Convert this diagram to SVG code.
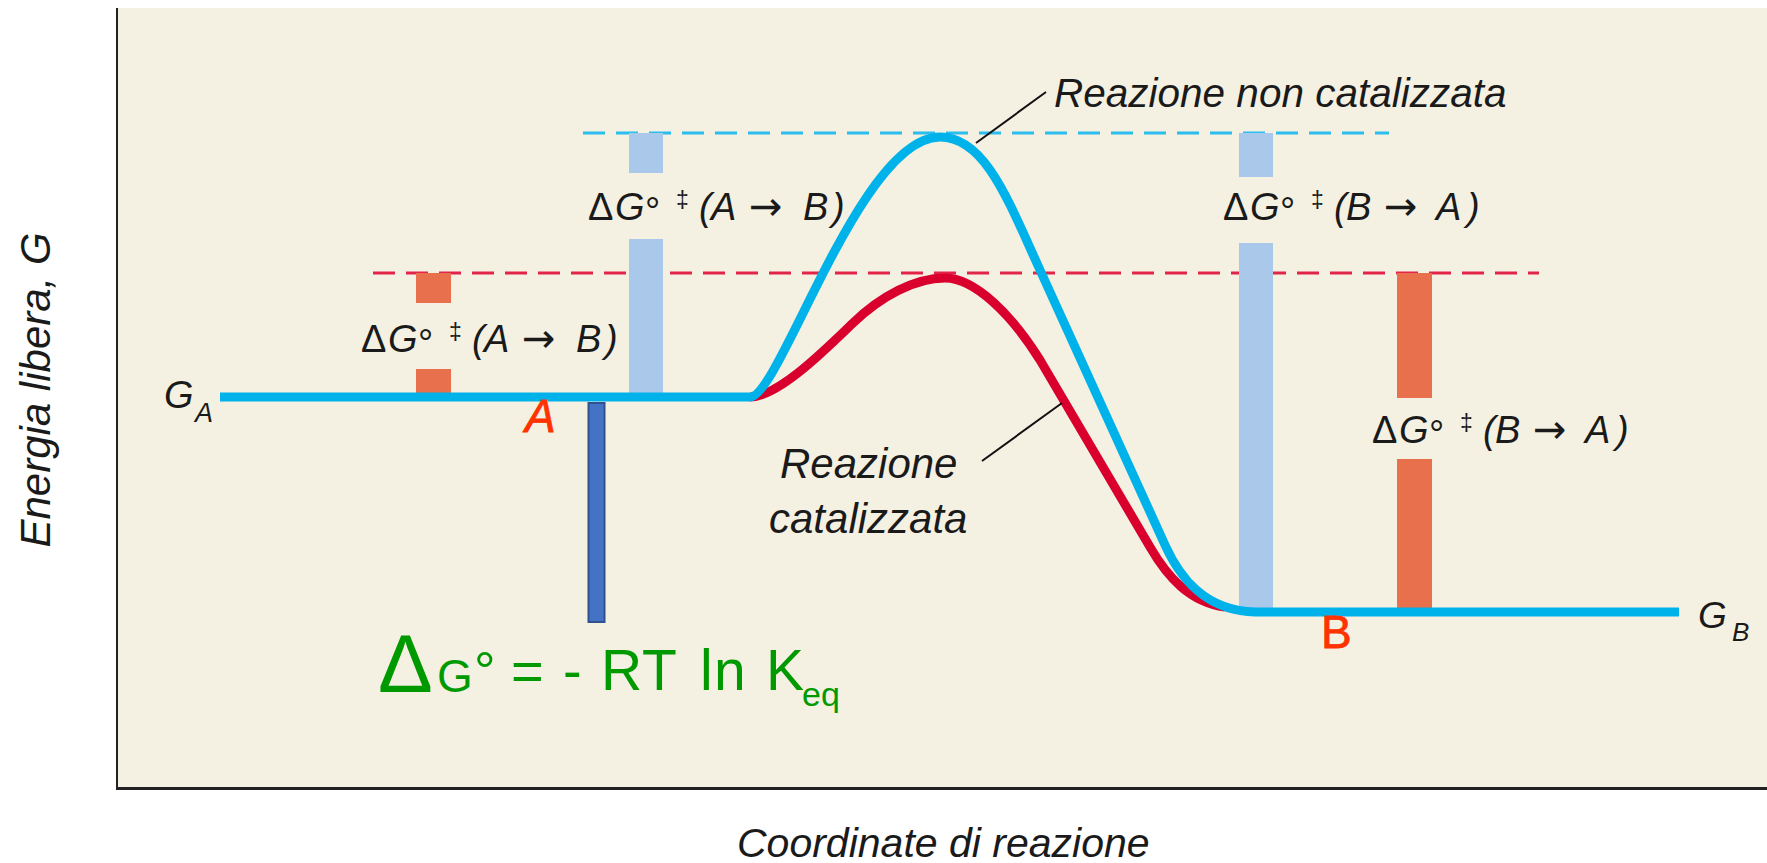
<svg xmlns="http://www.w3.org/2000/svg" width="1767" height="863" viewBox="0 0 1767 863">
<style>
.t{font-family:"Liberation Sans",Arial,sans-serif;fill:#1a1a1a;font-size:38px}
.it{font-style:italic}
.sm{font-size:23px}
.ar{font-family:"DejaVu Sans",sans-serif;font-size:40px}
.hand{font-family:"Liberation Sans",Arial,sans-serif}
.ax{stroke:#222;fill:none}
.lb{fill:#a9c8ea}
.or{fill:#e9704d}
.dashb{stroke:#2bbdee;stroke-width:3;stroke-dasharray:22 11;fill:none}
.dashr{stroke:#e32449;stroke-width:3;stroke-dasharray:22 11;fill:none}
.lead{stroke:#111;stroke-width:2;fill:none}
</style>
<rect x="0" y="0" width="1767" height="863" fill="#ffffff"/>
<rect x="117" y="8" width="1650" height="780" fill="#f4f1e3"/>
<g id="axes">
<line class="ax" x1="117" y1="8" x2="117" y2="789" stroke-width="2"/>
<line class="ax" x1="116" y1="788.5" x2="1767" y2="788.5" stroke-width="3"/>
<text class="t it" transform="translate(50,390) rotate(-90)" text-anchor="middle" style="font-size:42px">Energia libera, G</text>
<text class="t it" x="737" y="857" style="font-size:41px">Coordinate di reazione</text>
</g>
<g id="levels">
<line class="dashb" x1="583" y1="133" x2="1389" y2="133"/>
<line class="dashr" x1="373" y1="273" x2="1539" y2="273"/>
</g>
<g id="bars">
<rect class="lb" x="629" y="133" width="34" height="40"/>
<rect class="lb" x="629" y="239" width="34" height="154"/>
<rect class="or" x="416" y="273" width="35" height="30"/>
<rect class="or" x="416" y="369" width="35" height="25"/>
<rect class="lb" x="1239" y="133" width="34" height="44"/>
<rect class="lb" x="1239" y="243" width="34" height="366"/>
<rect class="or" x="1397" y="273" width="35" height="125"/>
<rect class="or" x="1397" y="459" width="35" height="150"/>
</g>
<g id="curves">
<path id="catalizzata" d="M750,397 C778,397 825,350 853,323 S915,278 945,278 C975,278 1012,315 1040,360 L1150,547 C1168,578 1190,602 1225,607" fill="none" stroke="#d9002e" stroke-width="9"/>
<path id="non-catalizzata" d="M220,397 H750 C780,397 860,137 940,137 C985,137 1008,200 1040,270 L1165,545 C1180,578 1205,611 1255,612 H1679" fill="none" stroke="#00b2ea" stroke-width="9"/>
</g>
<g id="connectors">
<line class="lead" x1="976" y1="143" x2="1046" y2="92"/>
<line class="lead" x1="1062" y1="403" x2="982" y2="461"/>
</g>
<g id="label-GA">
<text class="t it" x="164" y="408" style="font-size:38px">G</text>
<text class="t it" x="195" y="422" style="font-size:27px">A</text>
</g>
<g id="label-GB">
<text class="t it" x="1698" y="628" style="font-size:37px">G</text>
<text class="t it" x="1732" y="641" style="font-size:26px">B</text>
</g>
<g id="label-uncat">
<text class="t it" x="1054" y="107" style="font-size:40.5px">Reazione non catalizzata</text>
</g>
<g id="label-cat">
<text class="t it" x="780" y="478" style="font-size:42px">Reazione</text>
<text class="t it" x="769" y="533" style="font-size:42px">catalizzata</text>
</g>
<g id="dG-AB-cat">
<text class="t"><tspan x="361" y="352">Δ</tspan><tspan class="it" x="388" y="352">G</tspan><tspan x="418" y="356">°</tspan><tspan class="sm" x="449" y="340">‡</tspan><tspan class="it" x="472" y="352">(</tspan><tspan class="it" x="484" y="352">A</tspan><tspan class="ar" x="522" y="352">→</tspan><tspan class="it" x="576" y="352">B</tspan><tspan class="it" x="605" y="352">)</tspan></text>
</g>
<g id="dG-AB-uncat">
<text class="t"><tspan x="588" y="220">Δ</tspan><tspan class="it" x="615" y="220">G</tspan><tspan x="645" y="224">°</tspan><tspan class="sm" x="676" y="208">‡</tspan><tspan class="it" x="699" y="220">(</tspan><tspan class="it" x="711" y="220">A</tspan><tspan class="ar" x="749" y="220">→</tspan><tspan class="it" x="803" y="220">B</tspan><tspan class="it" x="832" y="220">)</tspan></text>
</g>
<g id="dG-BA-uncat">
<text class="t"><tspan x="1223" y="220">Δ</tspan><tspan class="it" x="1250" y="220">G</tspan><tspan x="1280" y="224">°</tspan><tspan class="sm" x="1311" y="208">‡</tspan><tspan class="it" x="1334" y="220">(</tspan><tspan class="it" x="1346" y="220">B</tspan><tspan class="ar" x="1384" y="220">→</tspan><tspan class="it" x="1436" y="220">A</tspan><tspan class="it" x="1467" y="220">)</tspan></text>
</g>
<g id="dG-BA-cat">
<text class="t"><tspan x="1372" y="443">Δ</tspan><tspan class="it" x="1399" y="443">G</tspan><tspan x="1429" y="447">°</tspan><tspan class="sm" x="1460" y="431">‡</tspan><tspan class="it" x="1483" y="443">(</tspan><tspan class="it" x="1495" y="443">B</tspan><tspan class="ar" x="1533" y="443">→</tspan><tspan class="it" x="1585" y="443">A</tspan><tspan class="it" x="1616" y="443">)</tspan></text>
</g>
<g id="label-A">
<text class="hand" x="525" y="432" fill="#ff3300" stroke="#ff3300" stroke-width="0.8" font-size="46" font-style="italic">A</text>
</g>
<g id="label-B">
<text class="hand" x="1321" y="648" fill="#ff3300" stroke="#ff3300" stroke-width="0.8" font-size="46">B</text>
</g>
<g id="dG0-bar">
<rect x="588.5" y="403" width="16" height="219" fill="#4472c4" stroke="#2f528f" stroke-width="2"/>
</g>
<g id="formula">
<text class="hand" fill="#009a00"><tspan x="378" y="692" font-size="82">Δ</tspan><tspan x="437" y="692" font-size="46">G</tspan><tspan x="474" y="690" font-size="54">°</tspan><tspan x="511" y="690" font-size="56">=</tspan><tspan x="563" y="690" font-size="56">-</tspan><tspan x="601" y="690" font-size="57">R</tspan><tspan x="642" y="690" font-size="57">T</tspan><tspan x="700" y="690" font-size="57">l</tspan><tspan x="714" y="690" font-size="57">n</tspan><tspan x="766" y="690" font-size="57">K</tspan><tspan x="802" y="706" font-size="34">eq</tspan></text>
</g>
</svg>
